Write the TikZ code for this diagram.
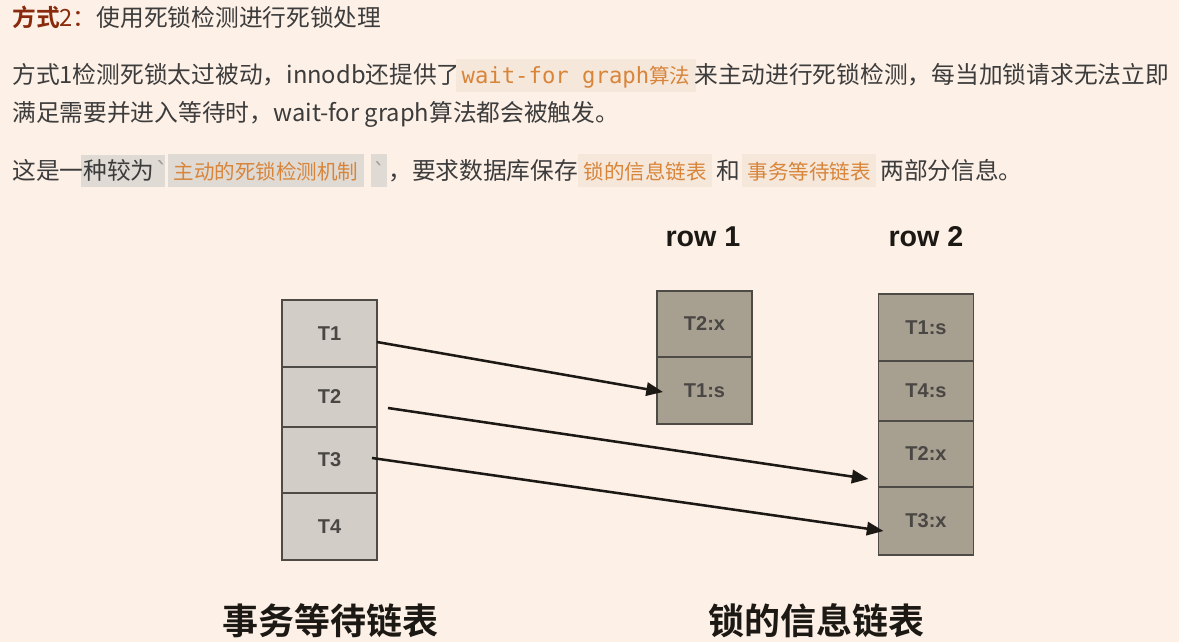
\documentclass[tikz,border=0pt]{standalone}
\usepackage{fontspec}
\setmainfont{Noto Sans CJK SC}[BoldFont={Noto Sans CJK SC Bold}]
\setmonofont{DejaVu Sans Mono}
\newfontfamily\rotfont{Liberation Sans}
\usetikzlibrary{arrows.meta,positioning,calc}
\definecolor{fundo}{HTML}{FDF0E6}
\definecolor{texto}{HTML}{3C3C3C}
\definecolor{titulo}{HTML}{8A2A0C}
\definecolor{laranja}{HTML}{D8853A}
\definecolor{codigo}{HTML}{F6E7DB}
\definecolor{selecao}{HTML}{E0DAD5}
\definecolor{crase}{HTML}{A09A95}
\definecolor{celclara}{HTML}{D2CEC7}
\definecolor{celescura}{HTML}{A79F90}
\definecolor{borda}{HTML}{4E4A45}
\definecolor{preto}{HTML}{1C1814}

\begin{document}
\begin{tikzpicture}[x=0.75pt,y=-0.75pt,
  txt/.style={anchor=base west,inner sep=0pt,text=texto,font=\fontsize{17.8}{20}\selectfont},
  tag/.style={anchor=base west,inner xsep=4pt,inner ysep=0pt,text height=18.5pt,text depth=6pt,text=laranja,font=\fontsize{15.4}{18}\selectfont},
  txcel/.style={draw=borda,line width=1.3pt,fill=celclara,minimum width=71.25pt,inner sep=0pt,outer sep=0pt,text=preto!80,font=\rotfont\bfseries\fontsize{15}{18}\selectfont},
  lkcel/.style={txcel,fill=celescura},
  rotulo/.style={text=preto,font=\rotfont\bfseries\fontsize{21.5}{24}\selectfont},
  legenda/.style={text=preto,font=\bfseries\fontsize{27}{30}\selectfont},
  seta/.style={-{Triangle[length=12.5pt,width=10pt]},line width=1.9pt,draw=preto}]
\fill[fundo] (0,0) rectangle (1179,642);
\useasboundingbox (0,0) rectangle (1179,642);

% texto de cima
\node[txt] (cab) at (12,27) {{\color{titulo}\bfseries 方式}{\color{titulo}2：}使用死锁检测进行死锁处理};
\node[txt] (p1a) at (12,84) {方式1检测死锁太过被动，innodb还提供了};
\node[tag,fill=codigo] (p1b) at (456,84) {{\ttfamily\fontsize{16.7}{20}\selectfont wait-for graph}算法};
\node[txt] (p1c) at (694,84) {来主动进行死锁检测，每当加锁请求无法立即};
\node[txt] (p2) at (12,122) {满足需要并进入等待时，wait-for graph算法都会被触发。};
\fill[selecao] (81,155) rectangle (165,187);
\node[txt] (p3a) at (12,179) {这是一种较为{\color{crase}\ttfamily `}};
\node[tag,fill=selecao] (p3b) at (168,179) {主动的死锁检测机制};
\node[tag,fill=selecao,inner xsep=1pt] (p3c) at (371,179) {{\color{crase}\ttfamily\fontsize{16.7}{20}\selectfont `}};
\node[txt] (p3d) at (388,179) {，要求数据库保存};
\node[tag,fill=codigo] (p3e) at (578,179) {锁的信息链表};
\node[txt] (p3f) at (716,179) {和};
\node[tag,fill=codigo] (p3g) at (742,179) {事务等待链表};
\node[txt] (p3h) at (880,179) {两部分信息。};

%事务等待链表
\node[txcel,minimum height=50.25pt] (tx1) at (329.5,333.5) {T1};
\node[txcel,minimum height=45pt,below=0pt of tx1] (tx2) {T2};
\node[txcel,minimum height=49.5pt,below=0pt of tx2] (tx3) {T3};
\node[txcel,minimum height=50.25pt,below=0pt of tx3] (tx4) {T4};

% row 1
\node[rotulo] (lr1) at (703,237) {row 1};
\node[lkcel,minimum height=49.5pt] (r1a) at (704.5,324) {T2:x};
\node[lkcel,minimum height=50.25pt,below=0pt of r1a] (r1b) {T1:s};

% row 2
\node[rotulo] (lr2) at (926,237) {row 2};
\node[lkcel,minimum height=50.25pt] (r2a) at (926,327.5) {T1:s};
\node[lkcel,minimum height=45pt,below=0pt of r2a] (r2b) {T4:s};
\node[lkcel,minimum height=49.5pt,below=0pt of r2b] (r2c) {T2:x};
\node[lkcel,minimum height=51pt,below=0pt of r2c] (r2d) {T3:x};

\draw[seta] ($(tx1.east)+(0,8.5)$) -- ($(r1b.west)+(6,1.5)$);
\draw[seta] ($(tx2.east)+(11,11)$) -- ($(r2c.west)+(-10,25)$);
\draw[seta] ($(tx3.east)+(-5,-2)$) -- ($(r2d.west)+(5,10)$);

\node[legenda] (ltx) at (330,621) {事务等待链表};
\node[legenda] (llk) at (816,621) {锁的信息链表};
\end{tikzpicture}
\end{document}
